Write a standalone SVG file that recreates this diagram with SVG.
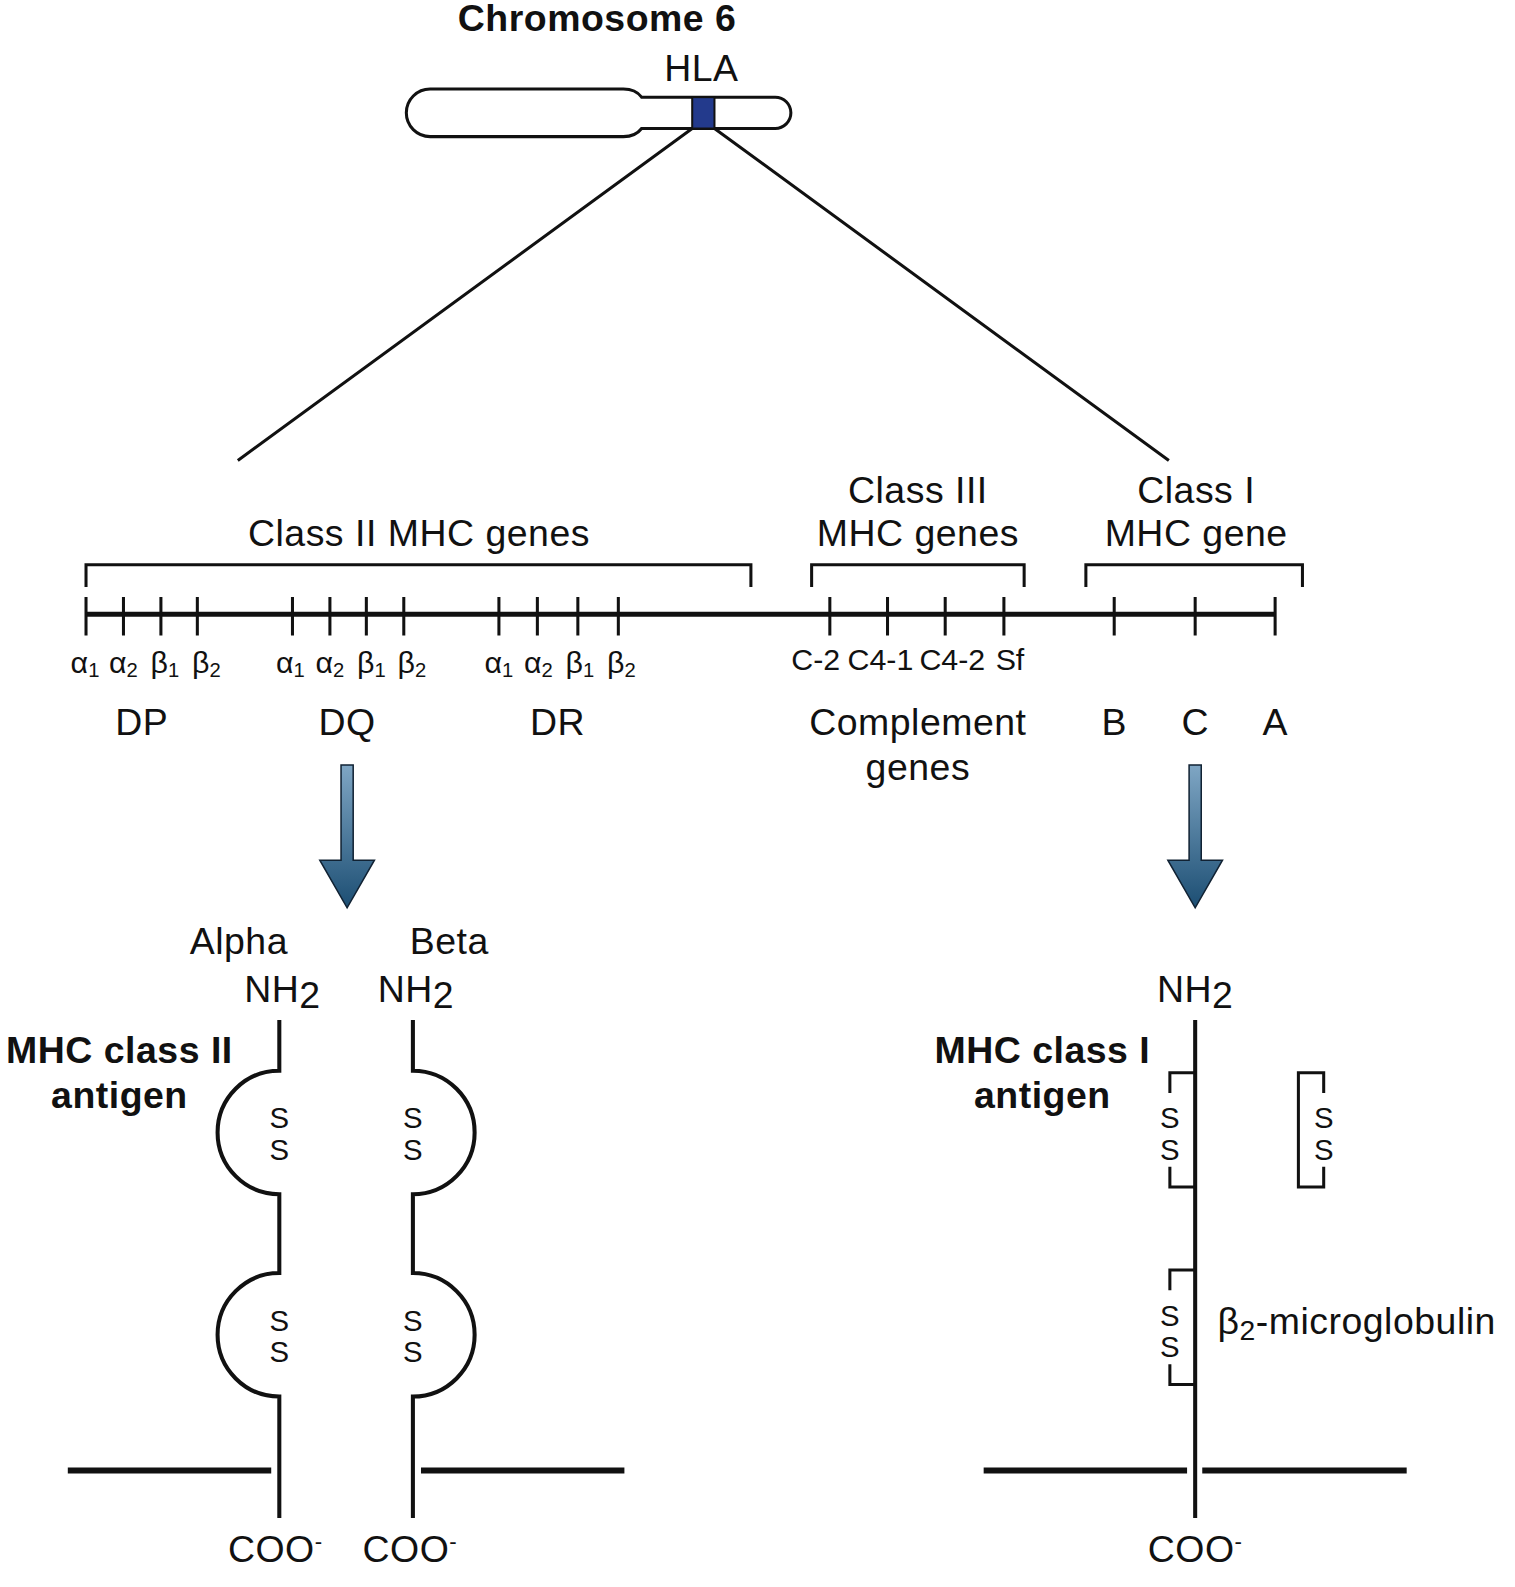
<svg xmlns="http://www.w3.org/2000/svg" width="1515" height="1587" viewBox="0 0 1515 1587">
<style>
text{font-family:"Liberation Sans",Arial,sans-serif;fill:#111;text-anchor:middle}
.t{font-size:37px;letter-spacing:0.5px}.g{font-size:30px}.b{font-size:37px;font-weight:bold;letter-spacing:0.5px}.s{font-size:29px}
.l{stroke:#111;fill:none;stroke-width:3}.c{stroke:#111;fill:none;stroke-width:4}.k{stroke:#111;fill:none;stroke-width:5}
</style>
<defs><linearGradient id="ag" x1="0" y1="0" x2="0" y2="1"><stop offset="0" stop-color="#7fa6c4"/><stop offset="1" stop-color="#1c4e73"/></linearGradient>
<g id="arr"><path d="M-6,0 H6 V94 H27 L0,141 L-27,94 H-6 Z" fill="url(#ag)" stroke="#123" stroke-width="1.5"/></g></defs>
<g transform="scale(1.012)">
<g id="chromosome">
<text class="b" x="590" y="31">Chromosome 6</text>
<text class="t" x="693" y="80">HLA</text>
<path class="l" d="M425,88 H616 Q628,88 634,96 H766 A15.5,15.5 0 0 1 766,127 H634 Q628,135 616,135 H425 A23.5,23.5 0 0 1 425,88 Z" fill="#fff"/>
<rect x="684" y="96" width="22" height="31" fill="#233a8c" stroke="#111" stroke-width="2"/>
</g>
<g id="connectors">
<path class="l" d="M684,127 L235,455 M706,127 L1155,455"/>
<use href="#arr" x="343" y="756"/>
<use href="#arr" x="1181" y="756"/>
</g>
<g id="gene-map">
<path class="k" d="M85,607 H1260"/>
<path class="l" d="M85,580 V558 H742 V580 M802,580 V558 H1012 V580 M1073,580 V558 H1287 V580"/>
<path class="l" d="M85,590V628M122,590V628M159,590V628M195,590V628M289,590V628M326,590V628M362,590V628M399,590V628M493,590V628M531,590V628M571,590V628M611,590V628M820,590V628M877,590V628M934,590V628M992,590V628M1101,590V628M1181,590V628M1260,590V628"/>
<text class="t" x="414" y="540">Class II MHC genes</text>
<text class="t" x="907" y="497">Class III</text><text class="t" x="907" y="540">MHC genes</text>
<text class="t" x="1182" y="497">Class I</text><text class="t" x="1182" y="540">MHC gene</text>
<g class="g">
<text x="84" y="665">α<tspan font-size="20" dy="4">1</tspan></text>
<text x="122" y="665">α<tspan font-size="20" dy="4">2</tspan></text>
<text x="163" y="665">β<tspan font-size="20" dy="4">1</tspan></text>
<text x="204" y="665">β<tspan font-size="20" dy="4">2</tspan></text>
<text x="287" y="665">α<tspan font-size="20" dy="4">1</tspan></text>
<text x="326" y="665">α<tspan font-size="20" dy="4">2</tspan></text>
<text x="367" y="665">β<tspan font-size="20" dy="4">1</tspan></text>
<text x="407" y="665">β<tspan font-size="20" dy="4">2</tspan></text>
<text x="493" y="665">α<tspan font-size="20" dy="4">1</tspan></text>
<text x="532" y="665">α<tspan font-size="20" dy="4">2</tspan></text>
<text x="573" y="665">β<tspan font-size="20" dy="4">1</tspan></text>
<text x="614" y="665">β<tspan font-size="20" dy="4">2</tspan></text>
<text x="806" y="662">C-2</text><text x="870" y="662">C4-1</text><text x="941" y="662">C4-2</text><text x="998" y="662">Sf</text>
</g>
<text class="t" x="140" y="726">DP</text><text class="t" x="343" y="726">DQ</text><text class="t" x="551" y="726">DR</text>
<text class="t" x="907" y="726">Complement</text><text class="t" x="907" y="771">genes</text>
<text class="t" x="1101" y="726">B</text><text class="t" x="1181" y="726">C</text><text class="t" x="1260" y="726">A</text>
</g>
<g id="class-II-antigen">
<text class="b" x="118" y="1050">MHC class II</text><text class="b" x="118" y="1095">antigen</text>
<text class="t" x="236" y="943">Alpha</text><text class="t" x="279" y="990">NH<tspan dy="6">2</tspan></text>
<text class="t" x="444" y="943">Beta</text><text class="t" x="411" y="990">NH<tspan dy="6">2</tspan></text>
<path class="c" d="M276,1008V1058 A61,61 0 1 0 276,1180 V1258 A61,61 0 1 0 276,1380 V1500"/>
<path class="c" d="M408,1008V1058 A61,61 0 1 1 408,1180 V1258 A61,61 0 1 1 408,1380 V1500"/>
<g class="s"><text x="276" y="1115">S</text><text x="276" y="1146">S</text><text x="276" y="1315">S</text><text x="276" y="1346">S</text>
<text x="408" y="1115">S</text><text x="408" y="1146">S</text><text x="408" y="1315">S</text><text x="408" y="1346">S</text></g>
<path d="M67,1453H268M416,1453H617" stroke="#111" stroke-width="6"/>
<text class="t" x="272" y="1543">COO<tspan font-size="22" dy="-12">-</tspan></text>
<text class="t" x="405" y="1543">COO<tspan font-size="22" dy="-12">-</tspan></text>
</g>
<g id="class-I-antigen">
<text class="b" x="1030" y="1050">MHC class I</text><text class="b" x="1030" y="1095">antigen</text>
<text class="t" x="1181" y="990">NH<tspan dy="6">2</tspan></text>
<path class="c" d="M1181,1008V1500"/>
<path class="l" d="M1181,1060H1156V1080M1156,1153V1173H1181M1181,1255H1156V1275M1156,1348V1368H1181M1308,1080V1060H1283V1173H1308V1153"/>
<g class="s"><text x="1156" y="1115">S</text><text x="1156" y="1146">S</text><text x="1156" y="1310">S</text><text x="1156" y="1341">S</text>
<text x="1308" y="1115">S</text><text x="1308" y="1146">S</text></g>
<text class="t" x="1203" y="1318" style="text-anchor:start">β<tspan font-size="28" dy="6">2</tspan><tspan dy="-6">-microglobulin</tspan></text>
<path d="M972,1453H1173M1188,1453H1390" stroke="#111" stroke-width="6"/>
<text class="t" x="1181" y="1543">COO<tspan font-size="22" dy="-12">-</tspan></text>
</g>
</g>
</svg>
